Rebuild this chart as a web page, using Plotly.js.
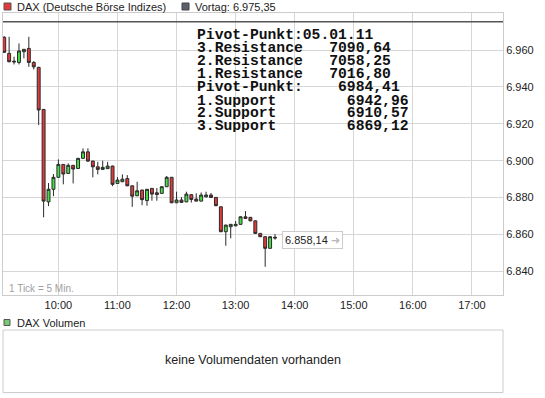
<!DOCTYPE html>
<html>
<head>
<meta charset="utf-8">
<script src="https://cdn.plot.ly/plotly-3.0.1.min.js"></script>
<style>html,body{margin:0;padding:0;background:#fff;}#chart{width:545px;height:398px;}</style>
</head>
<body>
<div id="chart"></div>
<script>
// ---- data ----
const tradeDay = '2011-01-05';
const times = ["09:05","09:10","09:15","09:20","09:25","09:30","09:35","09:40","09:45","09:50",
  "09:55","10:00","10:05","10:10","10:15","10:20","10:25","10:30","10:35","10:40",
  "10:45","10:50","10:55","11:00","11:05","11:10","11:15","11:20","11:25","11:30",
  "11:35","11:40","11:45","11:50","11:55","12:00","12:05","12:10","12:15","12:20",
  "12:25","12:30","12:35","12:40","12:45","12:50","12:55","13:00","13:05","13:10",
  "13:15","13:20","13:25","13:30","13:35","13:40"];
const openV = [6966.9,6958.2,6954.0,6953.3,6959.1,6960.9,6953.3,6950.6,6927.8,6877.7,
  6884.5,6891.0,6898.0,6893.1,6897.5,6895.8,6901.3,6904.8,6899.8,6896.7,
  6895.3,6895.7,6897.1,6887.7,6888.6,6890.3,6886.4,6881.0,6884.1,6878.4,
  6885.0,6882.6,6882.3,6885.9,6891.0,6877.2,6878.7,6877.7,6881.6,6879.2,
  6878.1,6880.4,6881.4,6880.1,6875.0,6861.5,6864.2,6864.7,6865.5,6869.6,
  6869.3,6867.4,6860.6,6858.8,6852.5,6858.5];
const highV = [6967.6,6967.2,6956.4,6963.6,6960.6,6967.2,6954.0,6951.0,6928.0,6887.9,
  6892.8,6900.7,6898.2,6898.6,6897.7,6901.5,6906.7,6906.7,6900.0,6899.4,
  6900.0,6899.4,6897.3,6891.1,6892.6,6892.2,6886.5,6888.6,6884.3,6884.7,
  6885.2,6885.2,6886.1,6891.7,6891.2,6883.2,6880.3,6883.2,6881.8,6882.3,
  6882.8,6883.2,6882.5,6880.3,6875.2,6865.3,6865.7,6867.3,6869.8,6872.7,
  6869.5,6867.6,6860.8,6859.0,6859.0,6860.2];
const lowV = [6958.4,6953.3,6952.2,6952.2,6955.5,6950.9,6949.5,6919.3,6869.3,6875.4,
  6880.8,6890.8,6887.2,6892.8,6887.7,6895.5,6900.9,6899.3,6891.0,6892.6,
  6895.0,6895.5,6886.2,6887.5,6888.4,6886.2,6875.0,6880.8,6875.9,6875.6,
  6878.3,6878.3,6882.0,6885.7,6877.0,6877.0,6877.2,6877.5,6877.3,6878.0,
  6877.9,6880.2,6880.0,6875.4,6861.3,6853.9,6857.9,6864.5,6865.3,6868.5,
  6867.2,6860.4,6858.6,6842.5,6852.3,6857.2];
const closeV = [6958.8,6953.7,6953.6,6959.5,6960.4,6953.3,6950.9,6927.5,6878.1,6884.5,
  6891.0,6898.0,6892.8,6897.5,6895.5,6901.3,6904.8,6899.8,6896.7,6895.3,
  6896.4,6897.1,6887.2,6889.5,6890.0,6886.4,6880.8,6883.7,6878.9,6884.5,
  6881.9,6881.7,6885.9,6891.0,6877.2,6878.7,6877.4,6881.9,6879.0,6878.1,
  6881.4,6881.4,6880.1,6875.6,6861.5,6865.1,6865.5,6865.5,6869.6,6868.7,
  6867.4,6860.6,6858.8,6852.5,6858.8,6858.14];
const vortag = 6975.35;
const yTickVals = [6840, 6860, 6880, 6900, 6920, 6940, 6960];
const xTickTimes = ["10:00","17:00"];
const pivotTitle = "Pivot-Punkt:05.01.11";
const pivotLabels = ["3.Resistance","2.Resistance","1.Resistance","Pivot-Punkt:","1.Support","2.Support","3.Support"];
const pivotValues = ["7090,64","7058,25","7016,80","6984,41","6942,96","6910,57","6869,12"];
const pivotWidths = [22,22,22,23,24,24,24];

// ---- helpers ----
function deFmt(v, dec){
  const s = v.toFixed(dec).split('.');
  const int = s[0].replace(/\B(?=(\d{3})+(?!\d))/g, '.');
  return dec ? int + ',' + s[1] : int;
}
const W = 545, H = 398;
const M = {l:3, r:42, t:13, b:6};
const pw = W - M.l - M.r, ph = H - M.t - M.b;
const px = x => (x - M.l) / pw;
const py = y => (H - M.b - y) / ph;
const NB = '\u00A0';

const xs = times.map(t => tradeDay + ' ' + t);

const trace = {
  type: 'candlestick',
  x: xs, open: openV, high: highV, low: lowV, close: closeV,
  increasing: {line: {color: '#2a2a2a', width: 1}, fillcolor: '#46e046'},
  decreasing: {line: {color: '#2a2a2a', width: 1}, fillcolor: '#e23a3a'},
  whiskerwidth: 0,
  hoverinfo: 'skip',
  xaxis: 'x', yaxis: 'y'
};

const mainBottom = 294.8;
const annotations = [];
const shapes = [];

// legend top
shapes.push({type:'rect', xref:'paper', yref:'paper', x0:px(4), x1:px(11), y0:py(10), y1:py(3),
  fillcolor:'#e23a3a', line:{color:'#555', width:1}});
annotations.push({xref:'paper', yref:'paper', x:px(15), y:py(7), xanchor:'left', yanchor:'middle',
  text:'DAX (Deutsche Börse Indizes)', showarrow:false, font:{size:11, color:'#222'}});
shapes.push({type:'rect', xref:'paper', yref:'paper', x0:px(182), x1:px(189), y0:py(10), y1:py(3),
  fillcolor:'#5c5f6c', line:{color:'#444', width:1}});
annotations.push({xref:'paper', yref:'paper', x:px(193), y:py(7), xanchor:'left', yanchor:'middle',
  text:'Vortag: ' + deFmt(vortag, 2), showarrow:false, font:{size:11, color:'#222'}});

// white box behind pivot text
shapes.push({type:'rect', xref:'paper', yref:'paper', layer:'below', x0:px(193), x1:px(498), y0:py(176), y1:py(27),
  fillcolor:'#ffffff', line:{width:0}});

// vortag line
shapes.push({type:'line', xref:'paper', yref:'y', x0:0, x1:1, y0:vortag, y1:vortag,
  line:{color:'#555555', width:1.5}});

// pivot text
const pivFont = {family:'Liberation Mono, DejaVu Sans Mono, monospace', size:14.7, color:'#111'};
const lineY = [34.3,47.7,60.7,73.5,86.7,100,112.7,125.7];
annotations.push({xref:'paper', yref:'paper', x:px(196), y:py(lineY[0]), xanchor:'left', yanchor:'middle',
  text:'<b>' + pivotTitle + '</b>', showarrow:false, font:pivFont, height:13, borderpad:0});
pivotLabels.forEach((lab, i) => {
  const pad = pivotWidths[i] - lab.length - pivotValues[i].length;
  annotations.push({xref:'paper', yref:'paper', x:px(196), y:py(lineY[i+1]), xanchor:'left', yanchor:'middle',
    text:'<b>' + lab + NB.repeat(pad) + pivotValues[i] + '</b>', showarrow:false, font:pivFont,
    height:13, borderpad:0});
});

// tick note
annotations.push({xref:'paper', yref:'paper', x:px(7), y:py(288), xanchor:'left', yanchor:'middle',
  text:'1 Tick = 5 Min.', showarrow:false, font:{size:10, color:'#a0a0a0'}});

// last price label
const lastClose = closeV[closeV.length - 1];
annotations.push({xref:'x', yref:'y', x:xs[xs.length-1], y:lastClose, xanchor:'left', yanchor:'middle',
  xshift:7, yshift:-2,
  text: deFmt(lastClose, 2) + ' <span style="color:#b8b8b8">➜</span>', showarrow:false,
  bgcolor:'#ffffff', bordercolor:'#cccccc', borderwidth:1, borderpad:2, font:{size:11, color:'#222'}});

// volume panel
shapes.push({type:'rect', xref:'paper', yref:'paper', x0:px(4), x1:px(10), y0:py(325.5), y1:py(319.5),
  fillcolor:'#78c878', line:{color:'#555', width:1}});
annotations.push({xref:'paper', yref:'paper', x:px(15), y:py(322.5), xanchor:'left', yanchor:'middle',
  text:'DAX Volumen', showarrow:false, font:{size:11, color:'#222'}});
shapes.push({type:'rect', xref:'paper', yref:'paper', x0:0, x1:1, y0:py(392.5), y1:py(330),
  line:{color:'#cccccc', width:1}, fillcolor:'rgba(0,0,0,0)'});
annotations.push({xref:'paper', yref:'paper', x:px(253), y:py(360), xanchor:'center', yanchor:'middle',
  text:'keine Volumendaten vorhanden', showarrow:false, font:{size:12.5, color:'#222'}});

const layout = {
  width: W, height: H,
  margin: M,
  paper_bgcolor: '#ffffff', plot_bgcolor: '#ffffff',
  separators: ',.',
  showlegend: false,
  font: {family: 'Arial, Liberation Sans, sans-serif', size: 11, color: '#222'},
  boxgap: 0.15,
  xaxis: {
    type: 'date',
    range: [tradeDay + ' 09:03:46', tradeDay + ' 17:31:30'],
    tick0: tradeDay + ' ' + xTickTimes[0], dtick: 3600000, tickformat: '%H:%M',
    showgrid: true, gridcolor: '#d6d6d6', gridwidth: 1,
    showline: true, mirror: true, linecolor: '#cccccc', linewidth: 1,
    ticks: '', tickfont: {size: 11, color: '#222'},
    rangeslider: {visible: false}, fixedrange: true, zeroline: false,
    anchor: 'y'
  },
  yaxis: {
    domain: [py(mainBottom), 1],
    range: [6827.3, 6980.1],
    side: 'right', tickmode: 'array', tickvals: yTickVals, tickformat: ',.0f',
    showgrid: true, gridcolor: '#d6d6d6', gridwidth: 1,
    showline: true, mirror: true, linecolor: '#cccccc', linewidth: 1,
    ticks: '', tickfont: {size: 11, color: '#222'}, zeroline: false, fixedrange: true
  },
  shapes: shapes,
  annotations: annotations
};

Plotly.newPlot('chart', [trace], layout, {staticPlot: true, displayModeBar: false});
</script>
</body>
</html>
